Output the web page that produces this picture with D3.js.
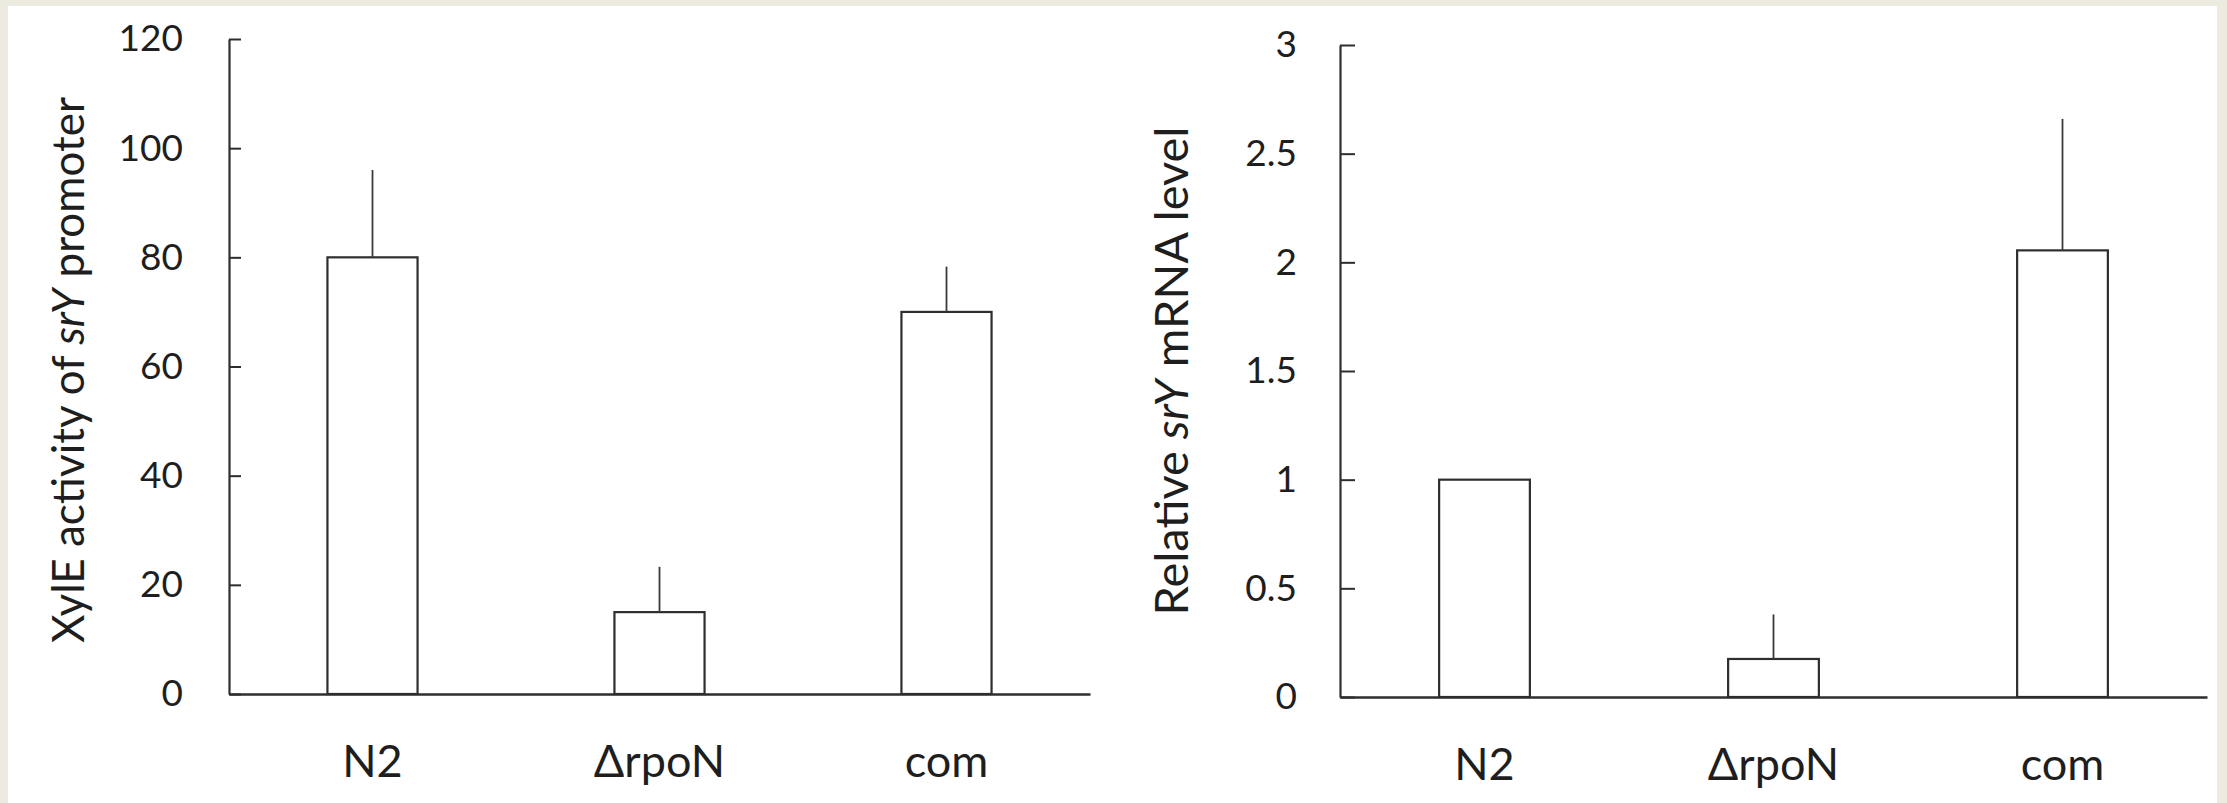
<!DOCTYPE html>
<html>
<head>
<meta charset="utf-8">
<script src="https://cdn.jsdelivr.net/npm/d3@7"></script>
<style>
body { margin: 0; background: #edeae0; }
svg { display: block; }
text { font-family: Lato, "Open Sans", sans-serif; fill: #1e1e1e; }
</style>
</head>
<body>
<script>
// strains along the x axis (same for both panels)
var strains = ["N2", "\u0394rpoN", "com"]

// left panel: XylE activity of the srY promoter
var xyleMeans = [80, 15, 70]
var xyleErrors = [16, 8.3, 8.3]
var xyleTicks = [0, 20, 40, 60, 80, 100, 120]

// right panel: relative srY mRNA level
var mrnaMeans = [1, 0.175, 2.055]
var mrnaErrors = [0, 0.205, 0.605]
var mrnaTicks = [0, 0.5, 1, 1.5, 2, 2.5, 3]

var W = 2227, H = 803

let svg = d3.select("body").append("svg")
    .attr("width", W)
    .attr("height", H)

// white sheet on the beige page
svg.append("rect")
    .attr("x", 8)
    .attr("y", 6)
    .attr("width", 2209)
    .attr("height", H - 6)
    .attr("fill", "white")

function drawPanel(p) {
    let x = d3.scaleBand()
        .domain(strains)
        .range([p.x0, p.x1])
        .paddingInner(0.686)
        .paddingOuter(0.343)

    let y = d3.scaleLinear()
        .domain([0, p.ticks[p.ticks.length - 1]])
        .range([p.y0, p.y1])

    let rows = strains.map((s, i) => ({ name: s, mean: p.means[i], err: p.errors[i] }))

    let g = svg.append("g")

    // bars
    g.selectAll("rect.bar")
        .data(rows)
        .enter()
        .append("rect")
        .attr("class", "bar")
        .attr("x", d => x(d.name))
        .attr("width", x.bandwidth())
        .attr("y", d => y(d.mean))
        .attr("height", d => y(0) - y(d.mean))
        .attr("fill", "white")
        .attr("stroke", "#2e2e2e")
        .attr("stroke-width", 2.2)

    // error bars, upper half only
    g.selectAll("line.err")
        .data(rows.filter(d => d.err > 0))
        .enter()
        .append("line")
        .attr("class", "err")
        .attr("x1", d => x(d.name) + x.bandwidth() / 2)
        .attr("x2", d => x(d.name) + x.bandwidth() / 2)
        .attr("y1", d => y(d.mean))
        .attr("y2", d => y(d.mean + d.err))
        .attr("stroke", "#3a3a3a")
        .attr("stroke-width", 1.8)

    // y axis: ticks point into the plot
    let yAxis = g.append("g")
        .attr("transform", "translate(" + p.x0 + ",0)")
        .call(d3.axisLeft(y)
            .tickValues(p.ticks)
            .tickFormat(d3.format("~g"))
            .tickSizeInner(-p.tickLen)
            .tickSizeOuter(0)
            .tickPadding(p.labelGap))
    yAxis.selectAll("line").attr("stroke", "#2e2e2e").attr("stroke-width", 2)
    yAxis.select(".domain").attr("stroke", "#2e2e2e").attr("stroke-width", 2.2)
    yAxis.selectAll("text")
        .attr("font-size", 37)
        .attr("font-family", "Lato, 'Open Sans', sans-serif")
        .attr("fill", "#1e1e1e")

    // x axis: plain line, no ticks
    let xAxis = g.append("g")
        .attr("transform", "translate(0," + p.y0 + ")")
        .call(d3.axisBottom(x).tickSize(0).tickSizeOuter(0).tickPadding(51))
    xAxis.select(".domain").attr("stroke", "#2e2e2e").attr("stroke-width", 2.6)
    xAxis.selectAll("text")
        .attr("font-size", 45)
        .attr("font-family", "Lato, 'Open Sans', sans-serif")
        .attr("fill", "#1e1e1e")

    // rotated axis title with the gene name in italics
    let title = g.append("text")
        .attr("transform", "translate(" + p.titleX + "," + p.titleY + ") rotate(-90)")
        .attr("text-anchor", "middle")
        .attr("font-size", p.titleSize)
    p.title.forEach(part => {
        title.append("tspan")
            .attr("font-style", part.italic ? "italic" : "normal")
            .text(part.text)
    })
}

drawPanel({
    x0: 229, x1: 1090, y0: 694, y1: 39,
    means: xyleMeans, errors: xyleErrors, ticks: xyleTicks,
    tickLen: 12, labelGap: 46,
    titleX: 84, titleY: 370, titleSize: 44,
    title: [{ text: "XylE activity of " }, { text: "srY", italic: true }, { text: " promoter" }]
})

drawPanel({
    x0: 1340, x1: 2207, y0: 697, y1: 45,
    means: mrnaMeans, errors: mrnaErrors, ticks: mrnaTicks,
    tickLen: 15, labelGap: 43,
    titleX: 1188, titleY: 371, titleSize: 47,
    title: [{ text: "Relative " }, { text: "srY", italic: true }, { text: " mRNA level" }]
})
</script>
</body>
</html>
